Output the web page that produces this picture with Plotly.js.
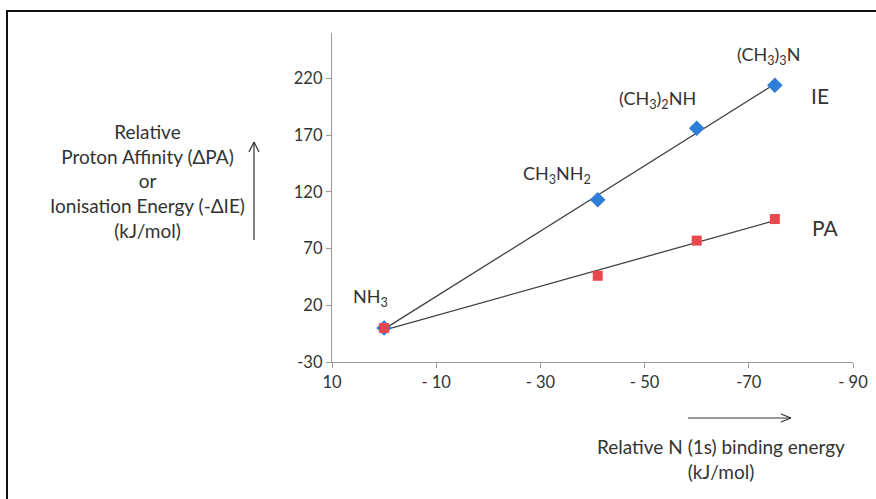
<!DOCTYPE html>
<html>
<head>
<meta charset="utf-8">
<script src="https://cdn.plot.ly/plotly-3.0.1.min.js"></script>
<style>html,body{margin:0;padding:0;background:#fff;}#chart{width:876px;height:499px;}</style>
</head>
<body>
<div id="chart"></div>
<script>
// Data (relative N 1s binding energy vs relative PA / IE, kJ/mol)
const compounds = ["NH3", "CH3NH2", "(CH3)2NH", "(CH3)3N"];
const bindingEnergy = [0, -41, -60, -75];
const ieValues = [0, 113, 176, 214];
const paValues = [0, 46, 77, 96];
const xTickVals = [10, -10, -30, -50, -70, -90];
const xTickText = ["10", "- 10", "- 30", "- 50", "-70", "- 90"];
const yTickVals = [-30, 20, 70, 120, 170, 220];
const yTickText = ["-30", "20", "70", "120", "170", "220"];

function fit(xs, ys) {
  const n = xs.length;
  const mx = xs.reduce((a, b) => a + b, 0) / n;
  const my = ys.reduce((a, b) => a + b, 0) / n;
  let sxy = 0, sxx = 0;
  for (let i = 0; i < n; i++) { sxy += (xs[i] - mx) * (ys[i] - my); sxx += (xs[i] - mx) ** 2; }
  const m = sxy / sxx, b = my - m * mx;
  const x0 = Math.max(...xs), x1 = Math.min(...xs);
  return { x: [x0, x1], y: [m * x0 + b, m * x1 + b] };
}
const ieFit = fit(bindingEnergy, ieValues);
const paFit = fit(bindingEnergy, paValues);

const W = 876, H = 499;
const M = { l: 332, r: 23, t: 33, b: 137 };
const pw = W - M.l - M.r, ph = H - M.t - M.b;
const px = x => (x - M.l) / pw;
const py = y => (H - M.b - y) / ph;

const FONT = "Lato, 'Open Sans', sans-serif";
const TXT = "#333333";
const FS = 16.5;
const LS = 18;
const TS = 19;

const traces = [
  { x: ieFit.x, y: ieFit.y, mode: "lines", line: { color: "#404040", width: 1.3 }, hoverinfo: "skip", showlegend: false },
  { x: paFit.x, y: paFit.y, mode: "lines", line: { color: "#404040", width: 1.3 }, hoverinfo: "skip", showlegend: false },
  { x: bindingEnergy, y: ieValues, name: "IE", mode: "markers", marker: { symbol: "diamond", size: 12, color: "#2F7ED8" }, showlegend: false, cliponaxis: false },
  { x: bindingEnergy, y: paValues, name: "PA", mode: "markers", marker: { symbol: "square", size: 10, color: "#E8484B" }, showlegend: false, cliponaxis: false }
];

function lbl(text, x, y, size) {
  return { text: text, x: x, y: y, xref: "x", yref: "y", xanchor: "center", yanchor: "middle", showarrow: false, font: { family: FONT, size: size || LS, color: TXT } };
}

const annotations = [
  lbl("NH<sub>3</sub>", 2.7, 26.6),
  lbl("CH<sub>3</sub>NH<sub>2</sub>", -33.2, 135.5),
  lbl("(CH<sub>3</sub>)<sub>2</sub>NH", -52.4, 201),
  lbl("(CH<sub>3</sub>)<sub>3</sub>N", -73.7, 240),
  lbl("IE", -83.7, 204.5, 21),
  lbl("PA", -84.8, 88.6, 21),
  { text: "Relative<br>Proton Affinity (ΔPA)<br>or<br>Ionisation Energy (-ΔIE)<br>(kJ/mol)", xref: "paper", yref: "paper", x: px(147), y: py(181), xanchor: "center", yanchor: "middle", showarrow: false, align: "center", font: { family: FONT, size: TS, color: TXT } },
  { text: "Relative N (1s) binding energy<br>(kJ/mol)", xref: "paper", yref: "paper", x: px(721), y: py(459), xanchor: "center", yanchor: "middle", showarrow: false, align: "center", font: { family: FONT, size: TS, color: TXT } }
];

function seg(x0, y0, x1, y1, w) {
  return { type: "line", xref: "paper", yref: "paper", x0: px(x0), y0: py(y0), x1: px(x1), y1: py(y1), line: { color: "#333333", width: w || 1.2 } };
}

const shapes = [
  // frame
  { type: "rect", xref: "paper", yref: "paper", x0: px(7), y0: py(11), x1: px(885), y1: py(520), line: { color: "#111111", width: 2 }, fillcolor: "rgba(0,0,0,0)" },
  // up arrow
  seg(254, 240, 254, 142), seg(254, 142, 249, 152), seg(254, 142, 259, 152),
  // right arrow
  seg(688, 418, 791, 418), seg(791, 418, 781, 414), seg(791, 418, 781, 422)
];

const layout = {
  width: W, height: H,
  margin: M,
  paper_bgcolor: "#ffffff", plot_bgcolor: "#ffffff",
  font: { family: FONT, size: FS, color: TXT },
  showlegend: false,
  xaxis: {
    range: [10, -90], tickvals: xTickVals, ticktext: xTickText,
    showgrid: false, zeroline: false, showline: true, linecolor: "#9a9a9a", linewidth: 1.2,
    ticks: "outside", ticklen: 5, tickcolor: "#9a9a9a",
    tickfont: { family: FONT, size: FS, color: TXT }
  },
  yaxis: {
    range: [-30, 260], tickvals: yTickVals, ticktext: yTickText,
    showgrid: false, zeroline: false, showline: true, linecolor: "#9a9a9a", linewidth: 1.2,
    ticks: "outside", ticklen: 5, tickcolor: "#9a9a9a",
    tickfont: { family: FONT, size: FS, color: TXT }
  },
  annotations: annotations,
  shapes: shapes
};

Plotly.newPlot("chart", traces, layout, { displayModeBar: false, staticPlot: true });
</script>
</body>
</html>
